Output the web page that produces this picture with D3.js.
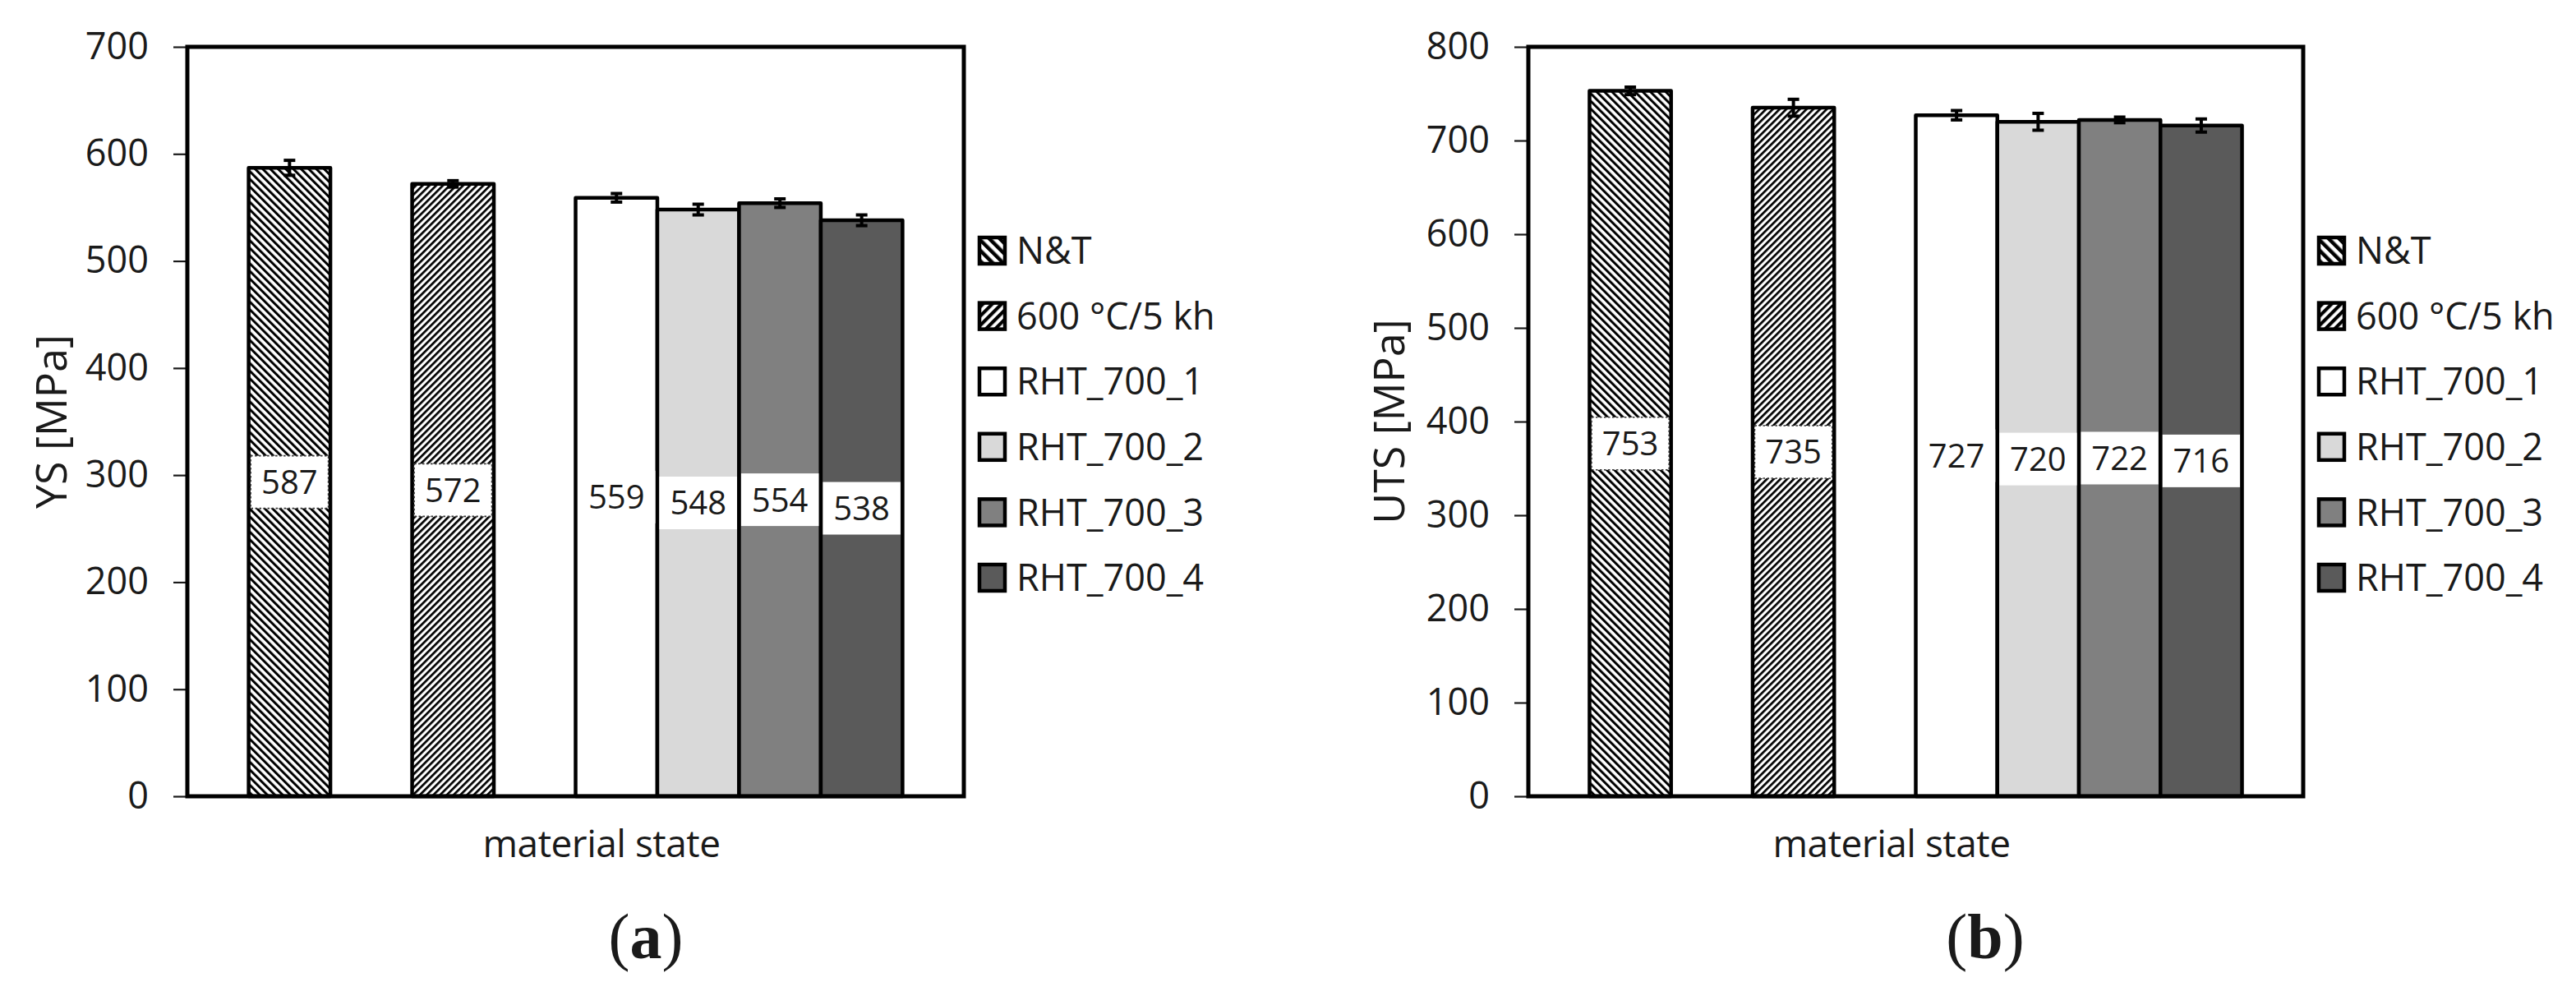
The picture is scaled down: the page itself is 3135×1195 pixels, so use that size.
<!DOCTYPE html>
<html>
<head>
<meta charset="utf-8">
<script src="https://cdn.jsdelivr.net/npm/d3@7"></script>
<style>
  html, body { margin: 0; padding: 0; background: #ffffff; }
  svg { display: block; }
  text { font-family: "Open Sans", "Noto Sans", sans-serif; fill: #1a1a1a; }
</style>
</head>
<body>
<svg id="chart" width="3135" height="1195"></svg>
<script>
// ---------------- data ----------------
const series = ["N&T", "600 °C/5 kh", "RHT_700_1", "RHT_700_2", "RHT_700_3", "RHT_700_4"];
const ysValues = [587, 572, 559, 548, 554, 538];
const ysErrors = [7, 3, 4, 5, 4, 5];
const utsValues = [753, 735, 727, 720, 722, 716];
const utsErrors = [4, 9, 5, 9, 3, 7];
const ysTicks = [0, 100, 200, 300, 400, 500, 600, 700];
const utsTicks = [0, 100, 200, 300, 400, 500, 600, 700, 800];
const ysTitle = "YS [MPa]";
const utsTitle = "UTS [MPa]";
const xTitle = "material state";
const panelLabels = ["a", "b"];

// ---------------- styles ----------------
const fills = ["url(#hatchNT)", "url(#hatch600)", "#ffffff", "#d9d9d9", "#808080", "#5a5a5a"];
const legendFills = ["url(#hatchNTLeg)", "url(#hatch600Leg)", "#ffffff", "#d9d9d9", "#808080", "#5a5a5a"];
const hatched = [true, true, false, false, false, false];

const svg = d3.select("#chart");
const defs = svg.append("defs");

function stripePattern(id, angle, period, stripe) {
  const p = defs.append("pattern")
    .attr("id", id)
    .attr("patternUnits", "userSpaceOnUse")
    .attr("width", period).attr("height", period)
    .attr("patternTransform", `rotate(${angle})`);
  p.append("rect").attr("width", period).attr("height", period).attr("fill", "#ffffff");
  p.append("rect").attr("x", 0).attr("y", 0).attr("width", stripe).attr("height", period).attr("fill", "#000000");
}
stripePattern("hatchNT", -45, 6.6, 3.0);
stripePattern("hatch600", 45, 5.8, 2.7);
stripePattern("hatchNTLeg", -45, 9, 4.5);
stripePattern("hatch600Leg", 45, 8, 4.2);

// slot keys: gaps after the first and second series
const slotKeys = [series[0], "_gap1", series[1], "_gap2"].concat(series.slice(2));

function drawPanel(opt) {
  const g = svg.append("g");
  const top = 57, bottom = 969;
  const x = d3.scaleBand().domain(slotKeys).range([opt.x0, opt.x1]).paddingInner(0).paddingOuter(0.75);
  const y = d3.scaleLinear().domain([0, opt.max]).range([bottom, top]);
  const bw = x.bandwidth();

  // y axis ticks + labels
  const axis = d3.axisLeft(y).tickValues(opt.ticks).tickSize(17).tickPadding(30).tickFormat(d3.format("d"));
  const ag = g.append("g").attr("transform", `translate(${opt.x0},0)`).call(axis);
  ag.select(".domain").remove();
  ag.selectAll(".tick line").attr("stroke", "#1a1a1a").attr("stroke-width", 2.2);
  ag.selectAll(".tick text")
    .style("font-family", '"Open Sans", sans-serif')
    .style("font-size", "45px")
    .attr("fill", "#1a1a1a");

  // bars
  const data = series.map((s, i) => ({ s, i, v: opt.values[i], e: opt.errors[i] }));
  g.selectAll("rect.bar").data(data).enter().append("rect")
    .attr("class", "bar")
    .attr("x", d => x(d.s))
    .attr("y", d => y(d.v))
    .attr("width", bw)
    .attr("height", d => y(0) - y(d.v))
    .attr("fill", d => fills[d.i])
    .attr("stroke", "#000")
    .attr("stroke-width", 4.5)
    .attr("stroke-linejoin", "round");

  // value labels with white boxes at bar middle
  const lab = g.selectAll("g.lab").data(data).enter().append("g")
    .attr("class", "lab")
    .attr("transform", d => `translate(${x(d.s) + bw / 2},${y(d.v / 2)})`);
  lab.append("rect")
    .attr("x", -(bw - 5) / 2).attr("y", -32)
    .attr("width", bw - 5).attr("height", 64)
    .attr("fill", "#ffffff")
    .attr("stroke", d => hatched[d.i] ? "#333" : "none")
    .attr("stroke-width", 1.6)
    .attr("stroke-dasharray", "2.5,2.5");
  lab.append("text")
    .attr("text-anchor", "middle")
    .attr("dy", "0.36em")
    .style("font-size", "40px")
    .text(d => d.v);

  // error bars
  const eb = g.selectAll("g.err").data(data).enter().append("g").attr("class", "err");
  eb.append("line")
    .attr("x1", d => x(d.s) + bw / 2).attr("x2", d => x(d.s) + bw / 2)
    .attr("y1", d => y(d.v - d.e)).attr("y2", d => y(d.v + d.e))
    .attr("stroke", "#000").attr("stroke-width", 4);
  [-1, 1].forEach(sign => {
    eb.append("line")
      .attr("x1", d => x(d.s) + bw / 2 - 7).attr("x2", d => x(d.s) + bw / 2 + 7)
      .attr("y1", d => y(d.v + sign * d.e)).attr("y2", d => y(d.v + sign * d.e))
      .attr("stroke", "#000").attr("stroke-width", 4);
  });

  // frame
  g.append("rect")
    .attr("x", opt.x0).attr("y", top)
    .attr("width", opt.x1 - opt.x0).attr("height", bottom - top)
    .attr("fill", "none").attr("stroke", "#000").attr("stroke-width", 5);

  // y title
  g.append("text")
    .attr("transform", `translate(${opt.titleX},${(top + bottom) / 2}) rotate(-90)`)
    .attr("text-anchor", "middle")
    .attr("dy", "0.35em")
    .style("font-size", "52px")
    .text(opt.title);

  // x title
  g.append("text")
    .attr("x", opt.xTitleX).attr("y", 1043)
    .attr("text-anchor", "middle")
    .style("font-size", "46px")
    .style("letter-spacing", "-0.5px")
    .text(xTitle);

  // legend
  const lg = g.append("g").attr("transform", `translate(${opt.x1 + 17},0)`);
  const rows = lg.selectAll("g").data(data).enter().append("g")
    .attr("transform", (d, i) => `translate(0,${305 + i * 79.6})`);
  rows.append("rect")
    .attr("x", 2).attr("y", -16).attr("width", 31).attr("height", 32)
    .attr("fill", d => legendFills[d.i])
    .attr("stroke", "#000").attr("stroke-width", 4.5);
  rows.append("text")
    .attr("x", 47).attr("dy", "0.36em")
    .style("font-size", "45px")
    .text(d => d.s);

  // panel label
  const pl = svg.append("text")
    .attr("x", opt.panelX).attr("y", 1166)
    .attr("text-anchor", "middle")
    .style("font-family", '"Liberation Serif", "Times New Roman", serif')
    .style("font-size", "78px")
    .attr("fill", "#000");
  pl.append("tspan").text("(");
  pl.append("tspan").style("font-weight", "bold").text(opt.panel);
  pl.append("tspan").text(")");
}

drawPanel({ x0: 228, x1: 1173, max: 700, ticks: ysTicks, values: ysValues, errors: ysErrors,
  title: ysTitle, titleX: 63, xTitleX: 732, panelX: 786, panel: panelLabels[0] });
drawPanel({ x0: 1860, x1: 2803, max: 800, ticks: utsTicks, values: utsValues, errors: utsErrors,
  title: utsTitle, titleX: 1691, xTitleX: 2302, panelX: 2416, panel: panelLabels[1] });
</script>
</body>
</html>
